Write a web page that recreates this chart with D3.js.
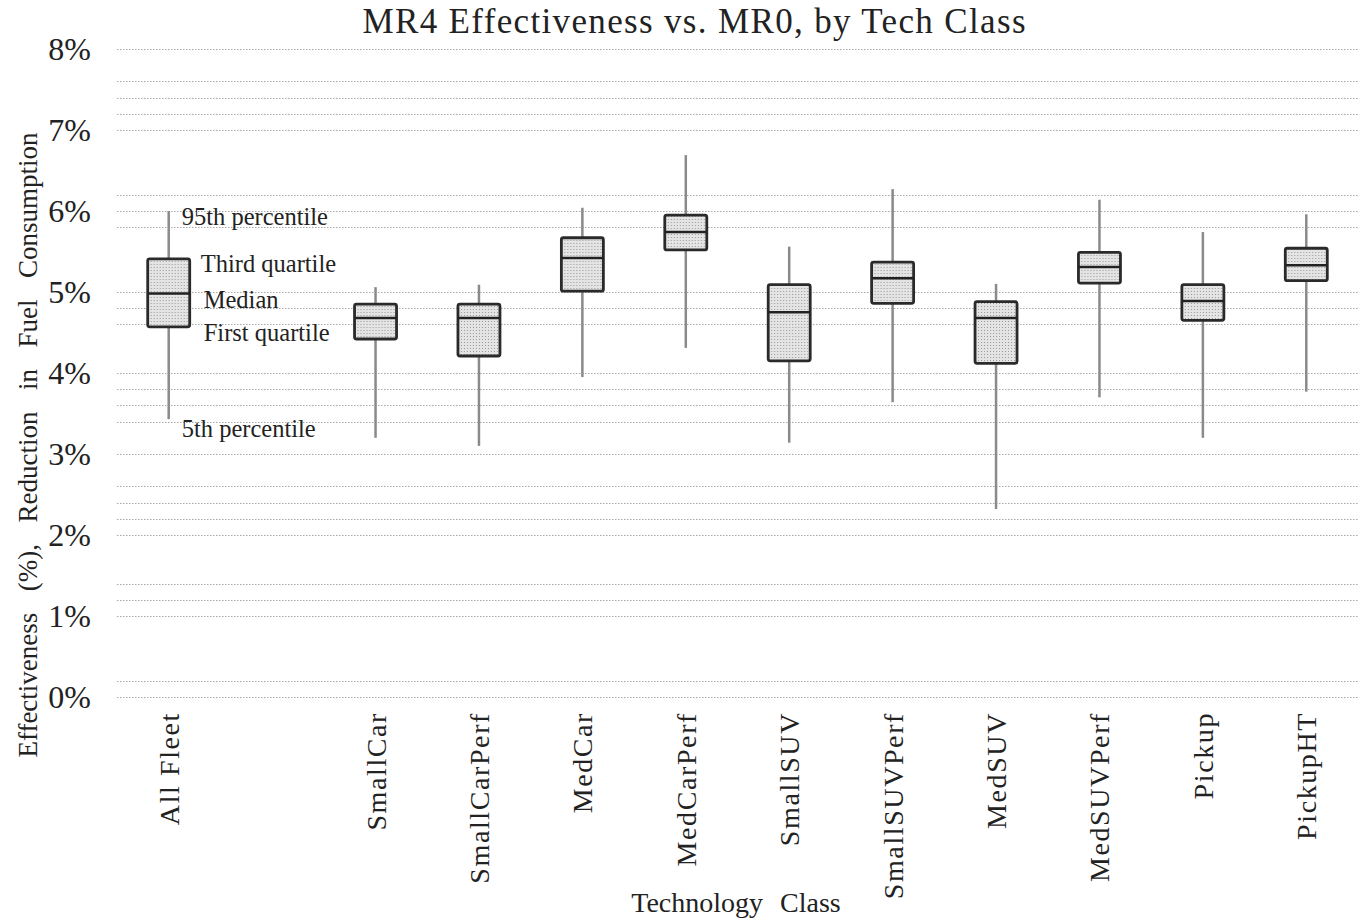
<!DOCTYPE html>
<html>
<head>
<meta charset="utf-8">
<script src="https://cdn.jsdelivr.net/npm/d3@7"></script>
<style>
  body { margin: 0; background: #fff; }
  text { font-family: "Liberation Serif", "Times New Roman", serif; fill: #222; }
</style>
</head>
<body>
<div id="chart"></div>
<script>
// tech classes (blank slot after All Fleet, as in the original)
var classes = ["All Fleet", "", "SmallCar", "SmallCarPerf", "MedCar", "MedCarPerf", "SmallSUV",
               "SmallSUVPerf", "MedSUV", "MedSUVPerf", "Pickup", "PickupHT"];

// percent values
var p5     = [3.43, null, 3.20, 3.10, 3.95, 4.31, 3.14, 3.64, 2.32, 3.70, 3.20, 3.77];
var q1     = [4.57, null, 4.42, 4.21, 5.01, 5.52, 4.15, 4.86, 4.12, 5.11, 4.65, 5.14];
var median = [4.98, null, 4.68, 4.68, 5.42, 5.74, 4.75, 5.17, 4.68, 5.31, 4.89, 5.33];
var q3     = [5.41, null, 4.85, 4.85, 5.67, 5.95, 5.09, 5.37, 4.88, 5.49, 5.09, 5.54];
var p95    = [6.00, null, 5.06, 5.09, 6.04, 6.69, 5.56, 6.27, 5.10, 6.14, 5.74, 5.96];

var yTicks = [0, 1, 2, 3, 4, 5, 6, 7, 8];
// dotted grid lines that appear in the original (some minor lines are missing there)
var gridVals = [8.0, 7.6, 7.4, 7.2, 7.0, 6.2, 6.0, 5.8, 5.0, 4.8, 4.6, 4.0, 3.8, 3.6, 3.4,
                3.0, 2.6, 2.4, 2.2, 2.0, 1.4, 1.2, 1.0, 0.2, 0.0];

var legendLabels = ["95th percentile", "Third quartile", "Median", "First quartile", "5th percentile"];

var width = 1370, height = 924;
var margin = {top: 49, right: 12, bottom: 227, left: 117};

var svg = d3.select("#chart").append("svg")
    .attr("width", width)
    .attr("height", height);

var defs = svg.append("defs");
var pat = defs.append("pattern")
    .attr("id", "stipple")
    .attr("width", 3).attr("height", 3)
    .attr("patternUnits", "userSpaceOnUse");
pat.append("rect").attr("width", 3).attr("height", 3).attr("fill", "#e4e4e4");
pat.append("rect").attr("width", 1).attr("height", 1).attr("fill", "#9a9a9a");

var x = d3.scaleBand()
    .domain(d3.range(classes.length))
    .range([margin.left, width - margin.right]);

var y = d3.scaleLinear()
    .domain([0, 8])
    .range([height - margin.bottom, margin.top]);

// grid
svg.append("g").selectAll("line")
  .data(gridVals)
  .enter().append("line")
    .attr("x1", margin.left)
    .attr("x2", width - margin.right)
    .attr("y1", function(d) { return Math.round(y(d)) + 0.5; })
    .attr("y2", function(d) { return Math.round(y(d)) + 0.5; })
    .attr("stroke", "#a8a8a8")
    .attr("stroke-width", 1)
    .attr("stroke-dasharray", "1.5,1.5");

// y axis labels
var yAxis = d3.axisLeft(y)
    .tickValues(yTicks)
    .tickSize(0)
    .tickPadding(0)
    .tickFormat(function(d) { return d + "%"; });

var gy = svg.append("g")
    .attr("transform", "translate(91,0)")
    .call(yAxis);
gy.select(".domain").remove();
gy.selectAll("text")
    .style("font-family", "Liberation Serif, serif")
    .style("font-size", "32px")
    .attr("fill", "#222")
    .attr("dy", "0.33em");

// boxes
var idx = d3.range(classes.length).filter(function(i) { return median[i] != null; });
var boxW = 42;

var box = svg.append("g").selectAll("g")
  .data(idx)
  .enter().append("g")
    .attr("transform", function(i) { return "translate(" + (x(i) + x.bandwidth() / 2) + ",0)"; });

box.append("line")
    .attr("x1", 0).attr("x2", 0)
    .attr("y1", function(i) { return y(p95[i]); })
    .attr("y2", function(i) { return y(p5[i]); })
    .attr("stroke", "#8a8a8a")
    .attr("stroke-width", 2.5);

box.append("rect")
    .attr("x", -boxW / 2)
    .attr("width", boxW)
    .attr("y", function(i) { return y(q3[i]); })
    .attr("height", function(i) { return y(q1[i]) - y(q3[i]); })
    .attr("rx", 2)
    .attr("fill", "url(#stipple)")
    .attr("stroke", "#2a2a2a")
    .attr("stroke-width", 2.8);

box.append("line")
    .attr("x1", -boxW / 2).attr("x2", boxW / 2)
    .attr("y1", function(i) { return y(median[i]); })
    .attr("y2", function(i) { return y(median[i]); })
    .attr("stroke", "#222")
    .attr("stroke-width", 2.5);

// annotation on All Fleet box
var ax = x(0) + x.bandwidth() / 2;
var annot = [
  {t: legendLabels[0], v: p95[0], dx: 13, dy: 14},
  {t: legendLabels[1], v: q3[0], dx: 32, dy: 13},
  {t: legendLabels[2], v: median[0], dx: 35, dy: 14},
  {t: legendLabels[3], v: q1[0], dx: 35, dy: 14},
  {t: legendLabels[4], v: p5[0], dx: 13, dy: 18}
];
svg.append("g").selectAll("text")
  .data(annot)
  .enter().append("text")
    .attr("x", function(d) { return ax + d.dx; })
    .attr("y", function(d) { return y(d.v) + d.dy; })
    .style("font-size", "24.5px")
    .text(function(d) { return d.t; });

// x labels
svg.append("g").selectAll("text")
  .data(d3.range(classes.length))
  .enter().append("text")
    .attr("transform", function(i) {
      return "translate(" + (x(i) + x.bandwidth() / 2 + 10) + ",712) rotate(-90)";
    })
    .attr("text-anchor", "end")
    .style("font-size", "28px")
    .style("letter-spacing", "1.6px")
    .text(function(i) { return classes[i]; });

// title
svg.append("text")
    .attr("x", 694)
    .attr("y", 33)
    .attr("text-anchor", "middle")
    .style("font-size", "35px")
    .attr("textLength", 663)
    .attr("lengthAdjust", "spacing")
    .text("MR4 Effectiveness vs. MR0, by Tech Class");

// axis titles
svg.append("text")
    .attr("x", 736)
    .attr("y", 912)
    .attr("text-anchor", "middle")
    .style("font-size", "28px")
    .style("word-spacing", "10px")
    .text("Technology Class");

var yTitle = svg.append("text")
    .attr("transform", "translate(37,445) rotate(-90)")
    .attr("text-anchor", "middle")
    .style("font-size", "27px")
    .text("Effectiveness (%), Reduction in Fuel Consumption");
// widen the gaps between words so the title spans about the same height as the original
var natural = yTitle.node().getComputedTextLength();
yTitle.style("word-spacing", Math.max(0, (640 - natural) / 6) + "px");
</script>
</body>
</html>
